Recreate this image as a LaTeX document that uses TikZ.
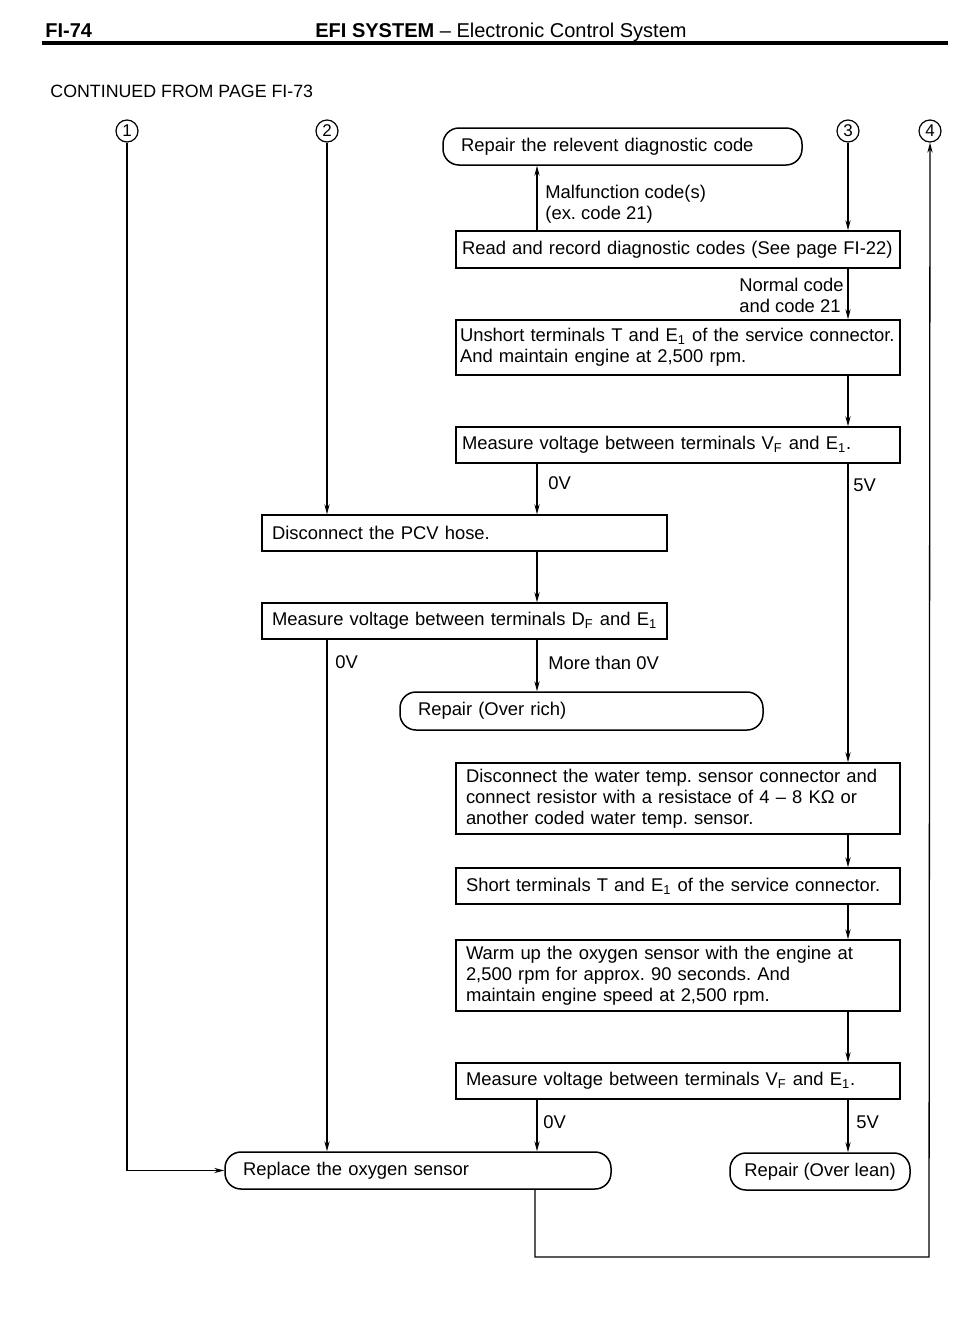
\documentclass[tikz,border=0pt]{standalone}
\usepackage{fontspec}
\setmainfont{Liberation Sans}
\usetikzlibrary{arrows.meta}
\frenchspacing
\begin{document}
\begin{tikzpicture}[x=0.5pt,y=-0.5pt,
  every node/.style={font=\fontsize{9.2}{10.5}\selectfont},
  stepbox/.style={draw,line width=0.75pt,rectangle,inner xsep=3pt,inner ysep=0pt,align=left},
  endbox/.style={draw,line width=0.75pt,rectangle,rounded corners=8pt,inner xsep=9pt,inner ysep=0pt,align=left},
  num/.style={draw,circle,line width=0.6pt,minimum size=11pt,inner sep=0pt,font=\fontsize{8.5}{9}\selectfont},
  arr/.style={line width=0.65pt,-{Stealth[length=5pt,width=2.6pt]}},
  lbl/.style={inner sep=0pt,anchor=west,align=left}]
\useasboundingbox (0,0) rectangle (965,1344);
% header
\node[anchor=base west,inner sep=0pt,font=\fontsize{10}{12}\selectfont\bfseries] (pg) at (45,37) {FI-74};
\node[anchor=base west,inner sep=0pt,font=\fontsize{10}{12}\selectfont] (title) at (315,37) {\textbf{EFI SYSTEM} -- Electronic Control System};
\coordinate (hl) at (42,43); \coordinate (hr) at (948,43);
\draw[line width=1.6pt] (hl) -- (hr);
\node[anchor=base west,inner sep=0pt,font=\fontsize{8.9}{10}\selectfont] (cont) at (50,97) {CONTINUED FROM PAGE FI-73};
% circled numbers
\node[num] (c1) at (127,131) {1};
\node[num] (c2) at (327,131) {2};
\node[num] (c3) at (848,131) {3};
\node[num] (c4) at (930,131) {4};
% x positions
\coordinate (xb) at (327,0);
\coordinate (xc) at (537,0);
\coordinate (xd) at (848,0);
% boxes
\node[endbox,minimum width=179.5pt,minimum height=18.5pt,text width=161.5pt] (rdc) at (622.5,146.5) {Repair the relevent diagnostic code};
\node[stepbox,minimum width=222pt,minimum height=18.5pt,text width=216pt] (read) at (678,249.5) {\mbox{Read and record diagnostic codes (See page FI-22)}};
\node[stepbox,minimum width=222pt,minimum height=27.5pt,text width=218pt,inner xsep=2pt] (unshort) at (678,347.5) {\mbox{Unshort terminals T and E\textsubscript{1} of the service connector.}\\\mbox{And maintain engine at 2,500 rpm.}};
\node[stepbox,minimum width=222pt,minimum height=18pt,text width=216pt] (mvf) at (678,445) {\mbox{Measure voltage between terminals V\textsubscript{F} and E\textsubscript{1}.}};
\node[stepbox,minimum width=202.5pt,minimum height=18pt,text width=192.5pt,inner xsep=5pt] (pcv) at (464.5,533) {\mbox{Disconnect the PCV hose.}};
\node[stepbox,minimum width=202.5pt,minimum height=18pt,text width=192.5pt,inner xsep=5pt] (mdf) at (464.5,621) {\mbox{Measure voltage between terminals D\textsubscript{F} and E\textsubscript{1}}};
\node[endbox,minimum width=181.5pt,minimum height=19pt,text width=163.5pt] (rich) at (581.5,711) {Repair (Over rich)};
\node[stepbox,minimum width=222pt,minimum height=35.5pt,text width=212pt,inner xsep=5pt] (water) at (678,798.5) {\mbox{Disconnect the water temp. sensor connector and}\\\mbox{connect resistor with a resistace of 4 -- 8 KΩ or}\\\mbox{another coded water temp. sensor.}};
\node[stepbox,minimum width=222pt,minimum height=18pt,text width=212pt,inner xsep=5pt] (short) at (678,886) {\mbox{Short terminals T and E\textsubscript{1} of the service connector.}};
\node[stepbox,minimum width=222pt,minimum height=35.5pt,text width=212pt,inner xsep=5pt] (warm) at (678,975.5) {\mbox{Warm up the oxygen sensor with the engine at}\\\mbox{2,500 rpm for approx. 90 seconds. And}\\\mbox{maintain engine speed at 2,500 rpm.}};
\node[stepbox,minimum width=222pt,minimum height=18pt,text width=212pt,inner xsep=5pt] (mvf2) at (678,1081) {\mbox{Measure voltage between terminals V\textsubscript{F} and E\textsubscript{1}.}};
\node[endbox,minimum width=193pt,minimum height=18.5pt,text width=175pt] (replace) at (418,1170.5) {Replace the oxygen sensor};
\node[endbox,minimum width=90pt,minimum height=18.5pt,align=center,inner xsep=4pt] (lean) at (820,1171.5) {Repair (Over lean)};
% connectors
\draw[arr] (xc |- read.north) -- (xc |- rdc.south);
\node[lbl] (l1) at (545,204) {Malfunction code(s)\\(ex. code 21)};
\draw[arr] (c3.south) -- (xd |- read.north);
\draw[arr] (xd |- read.south) -- (xd |- unshort.north);
\node[lbl,anchor=east,align=left] (l2) at (844,295.5) {Normal code\\and code 21};
\draw[arr] (xd |- unshort.south) -- (xd |- mvf.north);
\draw[arr] (xc |- mvf.south) -- (xc |- pcv.north);
\node[lbl] (l3) at (548,483) {0V};
\draw[arr] (xd |- mvf.south) -- (xd |- water.north);
\node[lbl] (l4) at (853,485) {5V};
\draw[arr] (c2.south) -- (xb |- pcv.north);
\draw[arr] (xc |- pcv.south) -- (xc |- mdf.north);
\draw[arr] (xc |- mdf.south) -- (xc |- rich.north);
\node[lbl] (l5) at (548,663) {More than 0V};
\draw[arr] (xb |- mdf.south) -- (xb |- replace.north);
\node[lbl] (l6) at (335,662) {0V};
\draw[arr] (xd |- water.south) -- (xd |- short.north);
\draw[arr] (xd |- short.south) -- (xd |- warm.north);
\draw[arr] (xd |- warm.south) -- (xd |- mvf2.north);
\draw[arr] (xc |- mvf2.south) -- (xc |- replace.north);
\node[lbl] (l7) at (543,1122) {0V};
\draw[arr] (xd |- mvf2.south) -- (xd |- lean.north);
\node[lbl] (l8) at (856,1122) {5V};
\draw[arr] (c1.south) |- (replace.west);
\coordinate (lb) at (535,1257);
\coordinate (rb) at (929,1257);
\draw[arr] (lb |- replace.south) -- (lb) -- (rb) -- (c4.south);
\end{tikzpicture}
\end{document}
